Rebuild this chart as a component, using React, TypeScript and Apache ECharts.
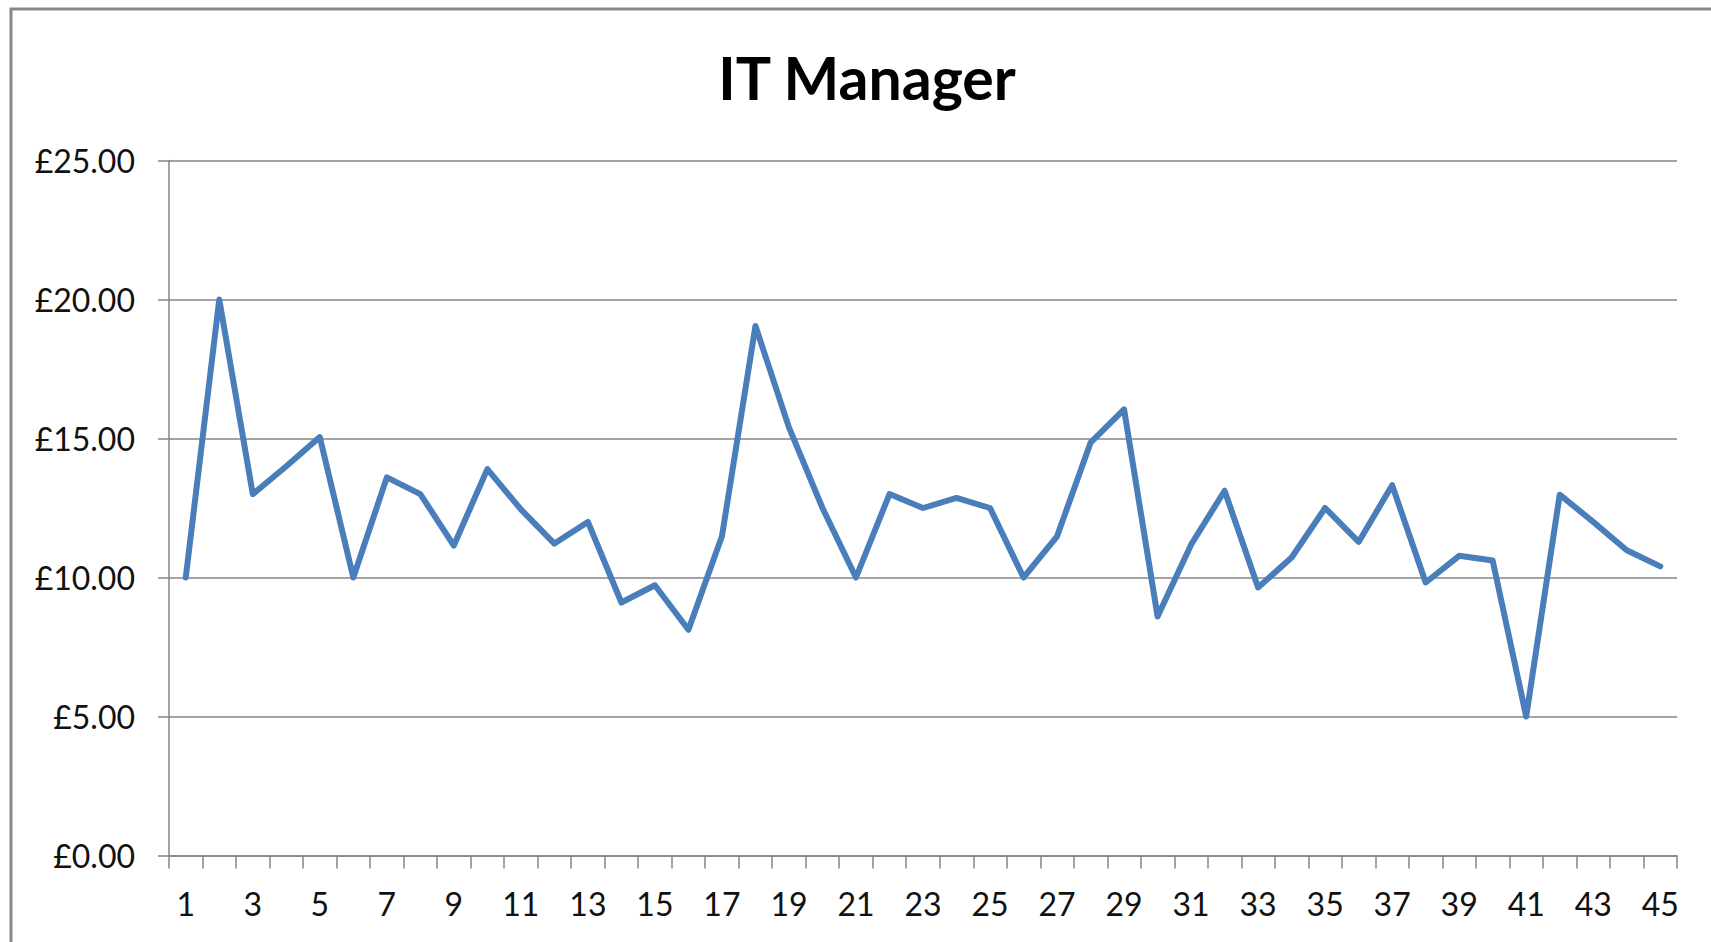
import React, { useEffect, useRef } from "react";
import * as echarts from "echarts";

const categories: string[] = Array.from({ length: 45 }, (_, i) => String(i + 1));
const rates: number[] = [
  10.0, 20.0, 13.0, 14.0, 15.05, 10.0, 13.6, 13.0, 11.15, 13.9,
  12.45, 11.22, 12.0, 9.1, 9.72, 8.12, 11.48, 19.05, 15.4, 12.5,
  10.0, 13.0, 12.5, 12.86, 12.5, 10.0, 11.48, 14.85, 16.05, 8.6,
  11.18, 13.12, 9.64, 10.72, 12.5, 11.28, 13.32, 9.82, 10.78, 10.61,
  5.0, 12.98, 12.0, 10.98, 10.4,
];
const yTicks = { min: 0, max: 25, interval: 5 };
const title = "IT Manager";

export default function App() {
  const ref = useRef<HTMLDivElement>(null);
  useEffect(() => {
    if (!ref.current) return;
    const chart = echarts.init(ref.current, null, { renderer: "svg" });
    const font = "Lato, 'Open Sans', sans-serif";
    chart.setOption({
      animation: false,
      backgroundColor: "#ffffff",
      title: {
        text: title,
        left: 862,
        top: 43,
        textAlign: "center",
        textStyle: { fontFamily: font, fontWeight: "bold", fontSize: 59, color: "#000" },
      },
      graphic: [
        {
          type: "rect",
          shape: { x: 11, y: 9, width: 1760, height: 1000 },
          style: { fill: "none", stroke: "#878787", lineWidth: 3 },
          silent: true,
        },
      ],
      grid: { left: 169, right: 34, top: 160.5, bottom: 86.5, containLabel: false },
      xAxis: {
        type: "category",
        data: categories,
        boundaryGap: true,
        axisLine: { show: true, lineStyle: { color: "#868686", width: 1.5 } },
        axisTick: { show: true, interval: 0, length: 13, inside: false, lineStyle: { color: "#868686", width: 1.5 } },
        axisLabel: { interval: 1, margin: 32, fontFamily: font, fontSize: 32, color: "#111" },
        splitLine: { show: false },
      },
      yAxis: {
        type: "value",
        min: yTicks.min,
        max: yTicks.max,
        interval: yTicks.interval,
        axisLine: { show: true, lineStyle: { color: "#868686", width: 1.5 } },
        axisTick: { show: true, length: 11, lineStyle: { color: "#868686", width: 1.5 } },
        axisLabel: {
          margin: 34,
          fontFamily: font,
          fontSize: 32,
          color: "#111",
          formatter: (v: number) => "£" + v.toFixed(2),
        },
        splitLine: { show: true, lineStyle: { color: "#868686", width: 1.5 } },
      },
      series: [
        {
          type: "line",
          data: rates,
          symbol: "none",
          lineStyle: { color: "#4A7EBB", width: 6, cap: "round", join: "round" },
          itemStyle: { color: "#4A7EBB" },
        },
      ],
    });
    return () => chart.dispose();
  }, []);
  return (
    <div
      ref={ref}
      style={{ position: "absolute", left: 0, top: 0, width: 1711, height: 942 }}
    />
  );
}
